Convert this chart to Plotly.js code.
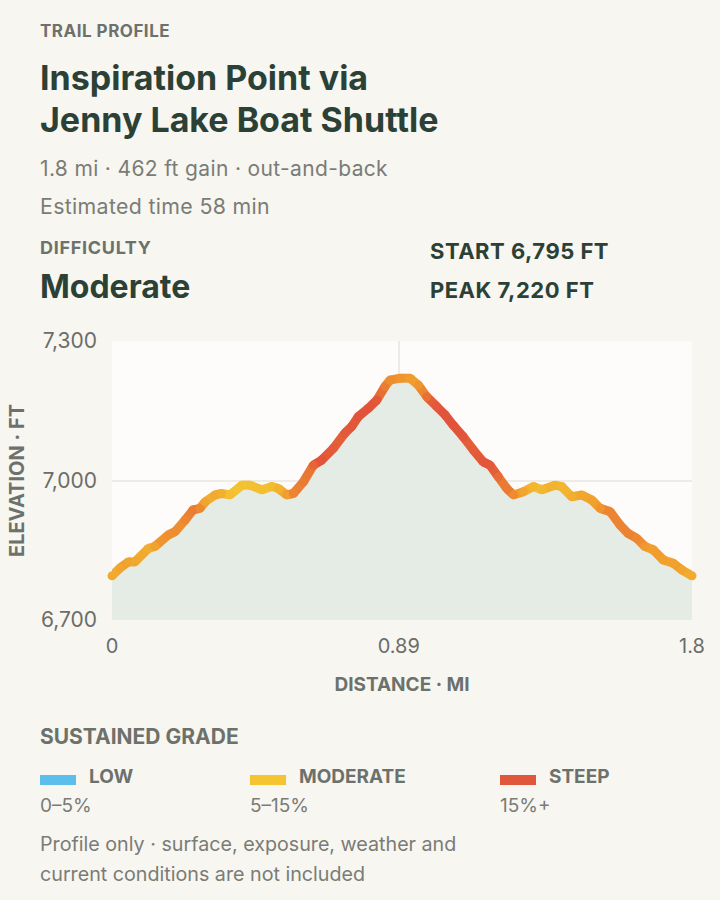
<!DOCTYPE html>
<html>
<head>
<meta charset="utf-8">
<script src="https://cdn.plot.ly/plotly-3.0.1.min.js"></script>
<style>
  html, body { margin: 0; padding: 0; background: #f7f6f1; }
  #card { position: relative; width: 720px; height: 900px; background: #f7f6f1; font-family: Inter, "Noto Sans", sans-serif; overflow: hidden; }
  .t { position: absolute; left: 40px; white-space: nowrap; }
  .eyebrow { font-size: 17px; font-weight: 700; color: #6d716b; line-height: 20px; letter-spacing: 0.5px; }
  .title { font-size: 34px; font-weight: 700; color: #2c4136; line-height: 41.5px; }
  .meta { font-size: 21px; font-weight: 400; color: #7a7c76; line-height: 26px; letter-spacing: 0.35px; }
  .big { font-size: 32px; font-weight: 700; color: #2c4136; line-height: 36px; }
  .stat { font-size: 22px; font-weight: 700; color: #2c4136; line-height: 26px; left: 430px; letter-spacing: 0.5px; }
  #chart { position: absolute; left: 0; top: 320px; width: 720px; height: 390px; }
  .sw { position: absolute; width: 36px; height: 10px; top: 775px; }
  .lg { position: absolute; font-size: 19px; font-weight: 700; color: #6d716b; line-height: 24px; top: 765px; }
  .rg { position: absolute; font-size: 19px; color: #7a7c76; line-height: 24px; top: 794px; }
</style>
</head>
<body>
<div id="card">
  <div class="t eyebrow" style="top:20.5px">TRAIL PROFILE</div>
  <div class="t title" style="top:57px">Inspiration Point via<br>Jenny Lake Boat Shuttle</div>
  <div class="t meta" style="top:156px">1.8 mi · 462 ft gain · out-and-back</div>
  <div class="t meta" style="top:193px;font-size:21.3px">Estimated time 58 min</div>
  <div class="t eyebrow" style="top:238px;font-size:18px;letter-spacing:0.7px">DIFFICULTY</div>
  <div class="t big" style="top:268.5px">Moderate</div>
  <div class="t stat" style="top:237.5px">START 6,795 FT</div>
  <div class="t stat" style="top:277px">PEAK 7,220 FT</div>
  <div id="chart"></div>
  <div class="t eyebrow" style="top:725px;font-size:21px;line-height:24px;letter-spacing:0">SUSTAINED GRADE</div>
  <div id="legend"></div>
  <div class="t meta" style="top:829px;font-size:19.7px;line-height:30px;letter-spacing:0">Profile only · surface, exposure, weather and<br>current conditions are not included</div>
</div>
<script>
// elevation profile
const distanceMi = [0, 0.025, 0.051, 0.071, 0.113, 0.133, 0.175, 0.196, 0.227, 0.252,
  0.273, 0.289, 0.320, 0.340, 0.366, 0.403, 0.428, 0.465, 0.496, 0.516,
  0.542, 0.563, 0.594, 0.625, 0.651, 0.687, 0.723, 0.744, 0.764, 0.795,
  0.822, 0.847, 0.863, 0.894, 0.925, 0.951, 0.977, 1.008, 1.034, 1.059,
  1.090, 1.121, 1.152, 1.173, 1.199, 1.225, 1.246, 1.277, 1.308, 1.334,
  1.375, 1.396, 1.427, 1.458, 1.489, 1.515, 1.546, 1.577, 1.602, 1.628,
  1.654, 1.680, 1.711, 1.742, 1.768, 1.8];
const elevationFt = [6795, 6812, 6825, 6825, 6854, 6858, 6883, 6890, 6915, 6937,
  6940, 6954, 6969, 6972, 6969, 6990, 6990, 6980, 6987, 6983,
  6969, 6972, 6997, 7033, 7044, 7069, 7102, 7116, 7137, 7155,
  7173, 7202, 7216, 7220, 7220, 7205, 7180, 7159, 7141, 7119,
  7094, 7066, 7040, 7033, 7008, 6983, 6969, 6976, 6987, 6980,
  6990, 6987, 6965, 6969, 6958, 6940, 6933, 6904, 6886, 6876,
  6858, 6851, 6829, 6822, 6808, 6795];

const xTickVals = [0, 0.89, 1.8];
const xTickText = ['0', '0.89', '1.8'];
const yTickVals = [6700, 7000, 7300];

const gradeBands = ['LOW', 'MODERATE', 'STEEP'];
const gradeRanges = ['0–5%', '5–15%', '15%+'];
const gradeColors = ['#5cbfeb', '#f5c431', '#e0583c'];

// line ramp: flat -> yellow, ~10% -> orange, 15%+ -> red
const rampStops = [[244, 196, 48], [240, 154, 46], [226, 84, 58]];
const gradeLo = 0.04, gradeHi = 0.15;

function rampColor(g) {
    let t = Math.max(0, Math.min(1, (g - gradeLo) / (gradeHi - gradeLo)));
    const seg = t < 0.5 ? 0 : 1;
    const f = t < 0.5 ? t / 0.5 : (t - 0.5) / 0.5;
    const a = rampStops[seg], b = rampStops[seg + 1];
    const c = a.map((v, i) => Math.round(v + (b[i] - v) * f));
    return `rgb(${c[0]},${c[1]},${c[2]})`;
}

// absolute grade of each segment, then a small moving average
const rawGrade = [];
for (let i = 0; i < distanceMi.length - 1; i++) {
    const run = (distanceMi[i + 1] - distanceMi[i]) * 5280;
    rawGrade.push(Math.abs(elevationFt[i + 1] - elevationFt[i]) / run);
}
const smoothGrade = rawGrade.map((_, i) => {
    let s = 0, n = 0;
    for (let k = i - 2; k <= i + 2; k++) {
        if (k >= 0 && k < rawGrade.length) { s += rawGrade[k]; n++; }
    }
    return s / n;
});
const pointGrade = distanceMi.map((_, i) => {
    const a = smoothGrade[Math.max(0, i - 1)];
    const b = smoothGrade[Math.min(smoothGrade.length - 1, i)];
    return (a + b) / 2;
});

const traces = [{
    x: distanceMi,
    y: elevationFt,
    type: 'scatter',
    mode: 'lines',
    fill: 'tozeroy',
    fillcolor: '#e5ece5',
    line: { width: 0, color: 'rgba(0,0,0,0)' },
    hoverinfo: 'skip'
}];

for (let i = 0; i < distanceMi.length - 1; i++) {
    traces.push({
        x: [distanceMi[i], distanceMi[i + 1]],
        y: [elevationFt[i], elevationFt[i + 1]],
        type: 'scatter',
        mode: 'lines',
        line: { color: rampColor(smoothGrade[i]), width: 9 },
        hoverinfo: 'skip'
    });
}

traces.push({
    x: distanceMi,
    y: elevationFt,
    type: 'scatter',
    mode: 'markers',
    marker: { size: 9, color: pointGrade.map(rampColor), line: { width: 0 } },
    cliponaxis: false,
    hovertemplate: '%{x:.2f} mi<br>%{y:,} ft<extra></extra>'
});

const tickFont = { family: 'Inter, sans-serif', size: 20, color: '#6b6d68' };

const layout = {
    paper_bgcolor: 'rgba(0,0,0,0)',
    plot_bgcolor: '#fdfcfa',
    width: 720,
    height: 390,
    margin: { l: 112, r: 28, t: 21, b: 90 },
    showlegend: false,
    separators: '.,',
    xaxis: {
        range: [0, 1.8],
        tickvals: xTickVals,
        ticktext: xTickText,
        tickfont: tickFont,
        ticks: '',
        ticklabelstandoff: 12,
        showgrid: true,
        gridcolor: '#ecebe6',
        gridwidth: 1.5,
        zeroline: false,
        showline: false,
        fixedrange: true,
        title: {
            text: '<b>DISTANCE · MI</b>',
            font: { family: 'Inter, sans-serif', size: 19, color: '#6d716b' },
            standoff: 20
        }
    },
    yaxis: {
        range: [6700, 7300],
        tickvals: yTickVals,
        tickformat: ',d',
        tickfont: Object.assign({}, tickFont, { size: 21 }),
        ticks: '',
        ticklabelstandoff: 14,
        showgrid: true,
        gridcolor: '#ecebe6',
        gridwidth: 1.5,
        zeroline: false,
        showline: false,
        fixedrange: true,
        title: {
            text: '<b>ELEVATION · FT</b>',
            font: { family: 'Inter, sans-serif', size: 20, color: '#6d716b' },
            standoff: 10
        }
    }
};

Plotly.newPlot('chart', traces, layout, { responsive: false, displayModeBar: false });

// grade legend
const legend = document.getElementById('legend');
const legendX = [40, 250, 500];
gradeBands.forEach((band, i) => {
    legend.insertAdjacentHTML('beforeend',
        `<div class="sw" style="left:${legendX[i]}px;background:${gradeColors[i]}"></div>` +
        `<div class="lg" style="left:${legendX[i] + 49}px">${band}</div>` +
        `<div class="rg" style="left:${legendX[i]}px">${gradeRanges[i]}</div>`);
});
</script>
</body>
</html>
